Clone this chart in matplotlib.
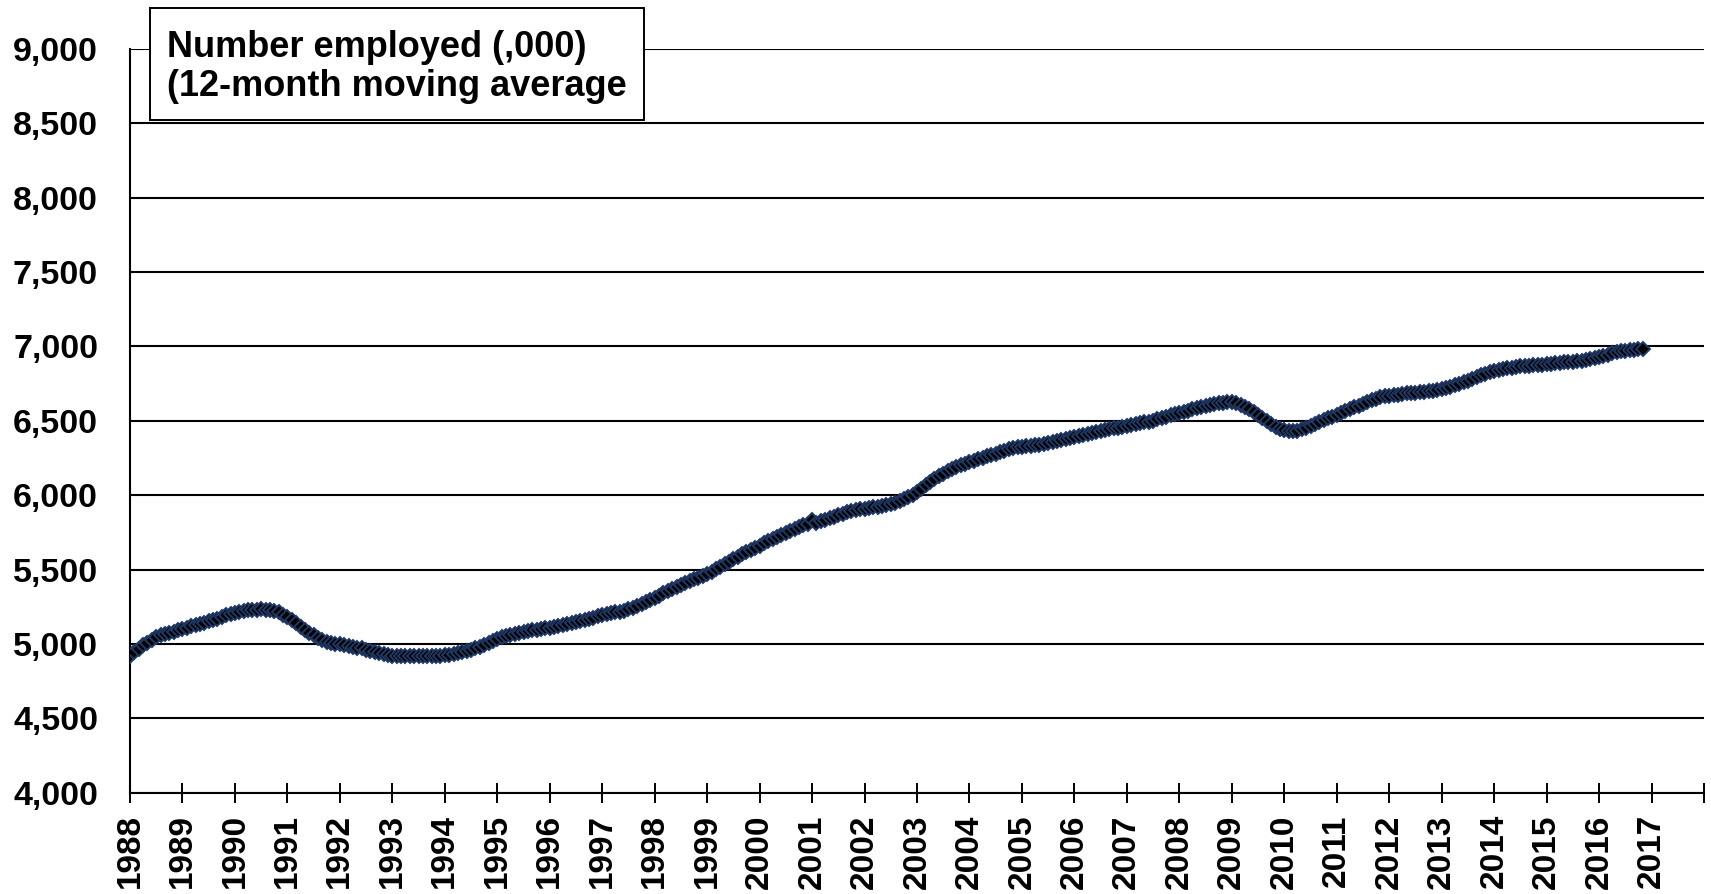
import matplotlib
matplotlib.use('Agg')
import matplotlib.pyplot as plt
from matplotlib.patches import Rectangle
import numpy as np

# monthly 12-month moving average of number employed (,000), Jan 1988 - Nov 2016
emp_1988 = [4917, 4945, 4968, 4990, 5005, 5025, 5045, 5058, 5066, 5074, 5082, 5092]
emp_1989 = [5100, 5108, 5118, 5126, 5135, 5144, 5153, 5160, 5170, 5182, 5193, 5203]
emp_1990 = [5210, 5216, 5222, 5226, 5229, 5231, 5232, 5231, 5229, 5222, 5212, 5198]
emp_1991 = [5180, 5160, 5138, 5116, 5095, 5075, 5058, 5042, 5028, 5016, 5008, 5002]
emp_1992 = [4997, 4992, 4987, 4981, 4976, 4970, 4962, 4954, 4946, 4938, 4931, 4925]
emp_1993 = [4921, 4919, 4918, 4917, 4917, 4917, 4917, 4917, 4918, 4919, 4920, 4922]
emp_1994 = [4925, 4929, 4934, 4940, 4946, 4952, 4960, 4970, 4982, 4995, 5008, 5020]
emp_1995 = [5032, 5044, 5055, 5063, 5070, 5077, 5083, 5088, 5092, 5096, 5100, 5104]
emp_1996 = [5109, 5115, 5120, 5126, 5132, 5138, 5145, 5153, 5161, 5169, 5177, 5186]
emp_1997 = [5194, 5200, 5206, 5212, 5218, 5224, 5232, 5242, 5254, 5266, 5280, 5295]
emp_1998 = [5310, 5325, 5340, 5356, 5372, 5386, 5398, 5410, 5422, 5434, 5446, 5458]
emp_1999 = [5470, 5486, 5502, 5520, 5536, 5552, 5570, 5587, 5603, 5618, 5632, 5646]
emp_2000 = [5660, 5676, 5692, 5706, 5720, 5734, 5748, 5761, 5773, 5785, 5797, 5809]
emp_2001 = [5834, 5816, 5826, 5836, 5846, 5855, 5866, 5876, 5884, 5892, 5898, 5904]
emp_2002 = [5908, 5913, 5918, 5923, 5928, 5933, 5940, 5950, 5962, 5976, 5990, 6004]
emp_2003 = [6022, 6044, 6066, 6088, 6108, 6128, 6146, 6162, 6176, 6190, 6202, 6213]
emp_2004 = [6223, 6233, 6243, 6252, 6261, 6270, 6280, 6290, 6299, 6308, 6316, 6322]
emp_2005 = [6325, 6328, 6331, 6335, 6340, 6346, 6353, 6360, 6367, 6374, 6380, 6386]
emp_2006 = [6393, 6400, 6407, 6413, 6419, 6425, 6431, 6437, 6443, 6449, 6455, 6461]
emp_2007 = [6466, 6471, 6477, 6483, 6489, 6495, 6502, 6510, 6518, 6527, 6536, 6545]
emp_2008 = [6553, 6561, 6569, 6577, 6585, 6592, 6599, 6606, 6612, 6618, 6623, 6627]
emp_2009 = [6626, 6620, 6608, 6594, 6578, 6560, 6540, 6520, 6500, 6480, 6462, 6448]
emp_2010 = [6440, 6434, 6431, 6434, 6442, 6452, 6464, 6476, 6490, 6503, 6516, 6528]
emp_2011 = [6540, 6552, 6564, 6577, 6590, 6603, 6615, 6627, 6638, 6648, 6657, 6664]
emp_2012 = [6669, 6673, 6677, 6681, 6684, 6687, 6690, 6693, 6696, 6700, 6704, 6709]
emp_2013 = [6715, 6722, 6730, 6739, 6749, 6759, 6770, 6781, 6793, 6805, 6817, 6827]
emp_2014 = [6834, 6840, 6846, 6852, 6857, 6862, 6866, 6869, 6871, 6873, 6875, 6877]
emp_2015 = [6880, 6884, 6888, 6891, 6893, 6895, 6897, 6900, 6904, 6909, 6915, 6922]
emp_2016 = [6930, 6938, 6946, 6954, 6962, 6968, 6972, 6975, 6977, 6980, 6986]

years = list(range(1988, 2018))
year_labels = [str(y) for y in years]
y_ticks = [4000, 4500, 5000, 5500, 6000, 6500, 7000, 7500, 8000, 8500, 9000]
box_lines = ['Number employed (,000)', '(12-month moving average']

employed = np.array(emp_1988 + emp_1989 + emp_1990 + emp_1991 + emp_1992 + emp_1993
                    + emp_1994 + emp_1995 + emp_1996 + emp_1997 + emp_1998 + emp_1999
                    + emp_2000 + emp_2001 + emp_2002 + emp_2003 + emp_2004 + emp_2005
                    + emp_2006 + emp_2007 + emp_2008 + emp_2009 + emp_2010 + emp_2011
                    + emp_2012 + emp_2013 + emp_2014 + emp_2015 + emp_2016)
months = 1988 + np.arange(len(employed)) / 12.0

plt.rcParams['font.family'] = ['Liberation Sans', 'DejaVu Sans']
plt.rcParams['font.weight'] = 'bold'

W, H = 1711, 894
fig = plt.figure(figsize=(W / 100, H / 100), dpi=100)
ax = fig.add_axes([130 / W, 1 - 792.7 / H, 1574 / W, (792.7 - 49) / H])

ax.plot(months, employed, linestyle='none', marker='D', markersize=7.5,
        markerfacecolor='black', markeredgecolor='#1f3864', markeredgewidth=1.4,
        zorder=3)

ax.set_ylim(4000, 9000)
ax.set_xlim(1988, 2018)
ax.set_yticks(y_ticks)
ax.set_yticklabels(['{:,}'.format(v) for v in y_ticks], fontsize=24.5, fontweight='bold')
ax.set_xticks(years + [2018])
ax.set_xticklabels(year_labels + [''], rotation=90, fontsize=24, fontweight='bold')

ax.yaxis.grid(True, color='black', linewidth=1.5)
ax.set_axisbelow(True)
ax.tick_params(axis='y', length=0, pad=23)
ax.tick_params(axis='x', direction='inout', length=15, width=1.4, pad=8)

for side in ['top', 'right']:
    ax.spines[side].set_visible(False)
for side in ['left', 'bottom']:
    ax.spines[side].set_linewidth(1.5)

# label box in the top left corner
fig.patches.append(Rectangle((150 / W, 1 - 120 / H), 494 / W, 112 / H,
                             transform=fig.transFigure, facecolor='white',
                             edgecolor='black', linewidth=1.4, zorder=5))
fig.text(167 / W, 1 - 57 / H, box_lines[0], fontsize=26, fontweight='bold',
         va='baseline', zorder=6)
fig.text(167 / W, 1 - 96 / H, box_lines[1], fontsize=26, fontweight='bold',
         va='baseline', zorder=6)

fig.savefig('out.png', dpi=100)
